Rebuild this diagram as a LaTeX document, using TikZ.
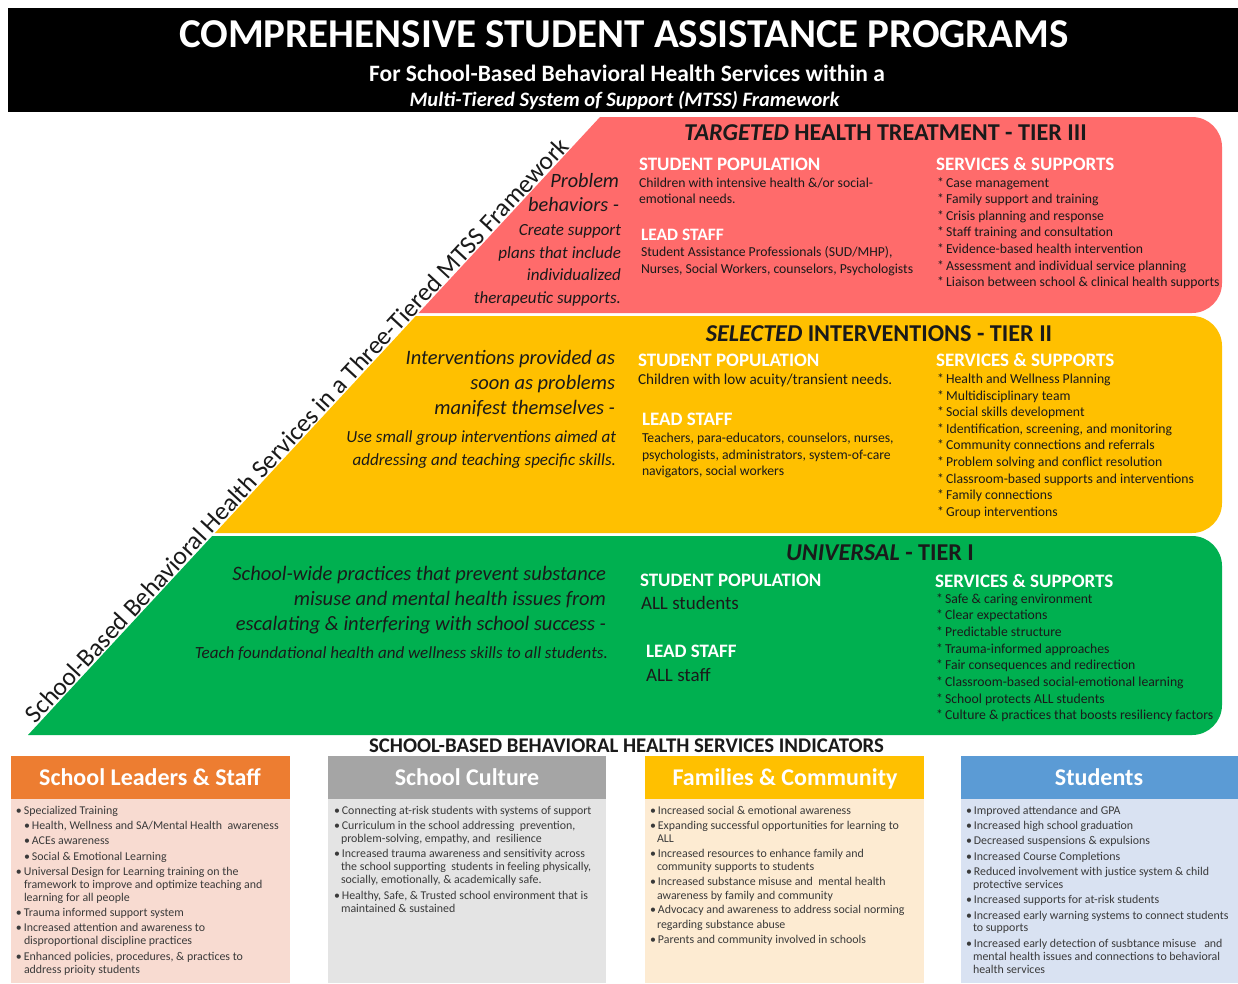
\documentclass[tikz,border=0pt]{standalone}
\usepackage{fontspec}
\usetikzlibrary{calc}
\setmainfont{Carlito}
\definecolor{tred}{HTML}{FF6B6B}
\definecolor{tyel}{HTML}{FFC000}
\definecolor{tgrn}{HTML}{00B050}
\definecolor{horange}{HTML}{ED7D31}
\definecolor{hgray}{HTML}{A5A5A5}
\definecolor{hgold}{HTML}{FFC000}
\definecolor{hblue}{HTML}{5B9BD5}
\definecolor{borange}{HTML}{F8DBD1}
\definecolor{bgray}{HTML}{E4E4E4}
\definecolor{bgold}{HTML}{FDEBD2}
\definecolor{bblue}{HTML}{D9E2F2}
\definecolor{ink}{HTML}{1A1A1A}
\definecolor{smallink}{HTML}{3A3A3A}
\newlength\diagW
\newcommand\dsp{\kern\fontdimen2\font}
\begin{document}
\settowidth{\diagW}{\fontsize{25.5}{28}\selectfont School-Based Behavioral Health Services in a Three-Tiered MTSS Framework}%
\begin{tikzpicture}[x=1pt,y=-1pt,
  every node/.style={inner sep=0pt,outer sep=0pt},
  tierhead/.style={anchor=base,text=ink,font=\fontsize{24.2}{26}\selectfont\bfseries},
  colhead/.style={anchor=base west,text=white,font=\fontsize{19}{22}\selectfont\bfseries},
  bodytxt/.style={anchor=base west,text=ink,font=\fontsize{13.7}{16}\selectfont},
  bigbody/.style={anchor=base west,text=ink,font=\fontsize{19}{22}\selectfont},
  lefttxt/.style={anchor=base east,text=ink,font=\fontsize{20.5}{24}\selectfont\itshape},
  leftsmall/.style={anchor=base east,text=ink,font=\fontsize{17}{20}\selectfont\itshape},
  boxhead/.style={anchor=base,text=white,font=\fontsize{24}{28}\selectfont\bfseries},
  boxtxt/.style={anchor=base west,text=smallink,font=\fontsize{11.9}{14}\selectfont},
  diagword/.style={rotate=47.2,anchor=base west,text=ink,font=\fontsize{25.5}{28}\selectfont}
]
\useasboundingbox (0,0) rectangle (1238,983);
\fill[white] (0,0) rectangle (1238,983);

% banner
\fill[black] (8,8) rectangle (1238,112);
\node[anchor=base,text=white,font=\fontsize{41}{44}\selectfont\bfseries] (title) at (624,47) {COMPREHENSIVE STUDENT ASSISTANCE PROGRAMS};
\node[anchor=base,text=white,font=\fontsize{23.5}{26}\selectfont\bfseries] (sub1) at (627,81) {For School-Based Behavioral Health Services within a};
\node[anchor=base,text=white,font=\fontsize{20.5}{24}\selectfont\bfseries\itshape] (sub2) at (624.5,106) {Multi-Tiered System of Support (MTSS) Framework};

% pyramid tiers
\begin{scope}
\clip (600,117) -- (1238,117) -- (1238,735) -- (28,735) -- cycle;
\fill[tred, rounded corners=30] (300,117) rectangle (1222,313);
\fill[tyel, rounded corners=30] (100,316) rectangle (1222,533);
\fill[tgrn, rounded corners=30] (-100,536) rectangle (1222,735);
\end{scope}

% diagonal label, set word by word along the slope
\coordinate (dstart) at ($(303,436)+(-0.3398\diagW,-0.3669\diagW)$);
\node[diagword] (d1) at (dstart) {School-Based\dsp};
\node[diagword] (d2) at (d1.base east) {Behavioral\dsp};
\node[diagword] (d3) at (d2.base east) {Health\dsp};
\node[diagword] (d4) at (d3.base east) {Services\dsp};
\node[diagword] (d5) at (d4.base east) {in\dsp};
\node[diagword] (d6) at (d5.base east) {a\dsp};
\node[diagword] (d7) at (d6.base east) {Three-Tiered\dsp};
\node[diagword] (d8) at (d7.base east) {MTSS\dsp};
\node[diagword] (d9) at (d8.base east) {Framework};

% ---------- Tier III ----------
\node[tierhead] (h3) at (885.5,140) {\textit{TARGETED} HEALTH TREATMENT - TIER III};
\node[lefttxt,font=\fontsize{20.3}{22}\selectfont\itshape] (l3a) at (619,187) {Problem};
\node[lefttxt,font=\fontsize{20.3}{22}\selectfont\itshape] (l3b) at (619,211) {behaviors -};
\node[leftsmall] (l3c) at (621,235) {Create support};
\node[leftsmall] (l3d) at (621,258) {plans that include};
\node[leftsmall] (l3e) at (621,280) {individualized};
\node[leftsmall] (l3f) at (621,303) {therapeutic supports.};

\node[colhead] (sp3) at (639,170) {STUDENT POPULATION};
\node[bodytxt] (sp3a) at (639,187) {Children with intensive health \&/or social-};
\node[bodytxt] (sp3b) at (639,203.5) {emotional needs.};
\node[colhead,font=\fontsize{17.4}{20}\selectfont\bfseries] (ls3) at (641,240.5) {LEAD STAFF};
\node[bodytxt] (ls3a) at (641,256.5) {Student Assistance Professionals (SUD/MHP),};
\node[bodytxt] (ls3b) at (641,273) {Nurses, Social Workers, counselors, Psychologists};
\node[colhead] (ss3) at (936,170) {SERVICES \& SUPPORTS};
\foreach \t [count=\i from 0] in {{Case management},{Family support and training},{Crisis planning and response},{Staff training and consultation},{Evidence-based health intervention},{Assessment and individual service planning},{Liaison between school \& clinical health supports}}
  \node[bodytxt] (s3-\i) at (937,187+16.6*\i) {*\,\t};

% ---------- Tier II ----------
\node[tierhead] (h2) at (879,341) {\textit{SELECTED} INTERVENTIONS - TIER II};
\node[lefttxt] (l2a) at (615,364) {Interventions provided as};
\node[lefttxt] (l2b) at (615,389) {soon as problems};
\node[lefttxt] (l2c) at (615,414) {manifest themselves -};
\node[leftsmall] (l2d) at (616,442) {Use small group interventions aimed at};
\node[leftsmall] (l2e) at (616,465) {addressing and teaching specific skills.};

\node[colhead] (sp2) at (638,366) {STUDENT POPULATION};
\node[bodytxt,font=\fontsize{15.2}{18}\selectfont] (sp2a) at (638,384) {Children with low acuity/transient needs.};
\node[colhead] (ls2) at (642,425) {LEAD STAFF};
\node[bodytxt] (ls2a) at (642,442.5) {Teachers, para-educators, counselors, nurses,};
\node[bodytxt] (ls2b) at (642,459) {psychologists, administrators, system-of-care};
\node[bodytxt] (ls2c) at (642,475.5) {navigators, social workers};
\node[colhead] (ss2) at (936,366) {SERVICES \& SUPPORTS};
\foreach \t [count=\i from 0] in {{Health and Wellness Planning},{Multidisciplinary team},{Social skills development},{Identification, screening, and monitoring},{Community connections and referrals},{Problem solving and conflict resolution},{Classroom-based supports and interventions},{Family connections},{Group interventions}}
  \node[bodytxt] (s2-\i) at (937,383.5+16.6*\i) {*\,\t};

% ---------- Tier I ----------
\node[tierhead] (h1) at (880,560) {\textit{UNIVERSAL} - TIER I};
\node[lefttxt] (l1a) at (606,580) {School-wide practices that prevent substance};
\node[lefttxt] (l1b) at (606,605) {misuse and mental health issues from};
\node[lefttxt] (l1c) at (606,630) {escalating \& interfering with school success -};
\node[leftsmall] (l1d) at (608,658) {Teach foundational health and wellness skills to all students.};

\node[colhead] (sp1) at (640,586) {STUDENT POPULATION};
\node[bigbody] (sp1a) at (641,609.5) {ALL students};
\node[colhead] (ls1) at (646,657) {LEAD STAFF};
\node[bigbody] (ls1a) at (646,681.5) {ALL staff};
\node[colhead] (ss1) at (935,587) {SERVICES \& SUPPORTS};
\foreach \t [count=\i from 0] in {{Safe \& caring environment},{Clear expectations},{Predictable structure},{Trauma-informed approaches},{Fair consequences and redirection},{Classroom-based social-emotional learning},{School protects ALL students},{Culture \& practices that boosts resiliency factors}}
  \node[bodytxt] (s1-\i) at (936,603+16.7*\i) {*\,\t};

% ---------- Indicators ----------
\node[anchor=base,text=ink,font=\fontsize{20.8}{24}\selectfont\bfseries] (ind) at (626.5,752) {SCHOOL-BASED BEHAVIORAL HEALTH SERVICES INDICATORS};

\fill[horange] (11,756) rectangle (290,799);
\fill[borange] (11,799) rectangle (290,983);
\fill[hgray] (328,756) rectangle (606,799);
\fill[bgray] (328,799) rectangle (606,983);
\fill[hgold] (645,756) rectangle (924,799);
\fill[bgold] (645,799) rectangle (924,983);
\fill[hblue] (961,756) rectangle (1238,799);
\fill[bblue] (961,799) rectangle (1238,983);

\node[boxhead] (b1h) at (150,785) {School Leaders \& Staff};
\node[boxhead] (b2h) at (467,785) {School Culture};
\node[boxhead] (b3h) at (785,785) {Families \& Community};
\node[boxhead] (b4h) at (1099,785) {Students};

% box 1
\foreach \xx/\yy/\t [count=\i] in {16/812/{•\,Specialized Training},24/827/{•\,Health, Wellness and SA/Mental Health\ \ awareness},24/842/{•\,ACEs awareness},24/858/{•\,Social \& Emotional Learning},16/873/{•\,Universal Design for Learning training on the},24/886/{framework to improve and optimize teaching and},24/899/{learning for all people},16/914/{•\,Trauma informed support system},16/929/{•\,Increased attention and awareness to},24/942/{disproportional discipline practices},16/958/{•\,Enhanced policies, procedures, \& practices to},24/971/{address prioity students}}
  \node[boxtxt] (b1-\i) at (\xx,\yy+2.8) {\t};

% box 2
\foreach \xx/\yy/\t [count=\i] in {334/812/{•\,Connecting at-risk students with systems of support},334/827/{•\,Curriculum in the school addressing\ \ prevention,},341/840/{problem-solving, empathy, and\ \ resilience},334/855/{•\,Increased trauma awareness and sensitivity across},341/868/{the school supporting\ \ students in feeling physically,},341/881/{socially, emotionally, \& academically safe.},334/897/{•\,Healthy, Safe, \& Trusted school environment that is},341/910/{maintained \& sustained}}
  \node[boxtxt] (b2-\i) at (\xx,\yy+2.8) {\t};

% box 3
\foreach \xx/\yy/\t [count=\i] in {650/812/{•\,Increased social \& emotional awareness},650/827/{•\,Expanding successful opportunities for learning to},657/840/{ALL},650/855/{•\,Increased resources to enhance family and},657/868/{community supports to students},650/883/{•\,Increased substance misuse and\ \ mental health},657/897/{awareness by family and community},650/911/{•\,Advocacy and awareness to address social norming},657/926/{regarding substance abuse},650/941/{•\,Parents and community involved in schools}}
  \node[boxtxt] (b3-\i) at (\xx,\yy+2.8) {\t};

% box 4
\foreach \xx/\yy/\t [count=\i] in {966/812/{•\,Improved attendance and GPA},966/827/{•\,Increased high school graduation},966/842/{•\,Decreased suspensions \& expulsions},966/858/{•\,Increased Course Completions},966/873/{•\,Reduced involvement with justice system \& child},973/886/{protective services},966/901/{•\,Increased supports for at-risk students},966/917/{•\,Increased early warning systems to connect students},973/929/{to supports},966/945/{•\,Increased early detection of susbtance misuse\ \ \ and},973/958/{mental health issues and connections to behavioral},973/971/{health services}}
  \node[boxtxt] (b4-\i) at (\xx,\yy+2.8) {\t};
\end{tikzpicture}
\end{document}
